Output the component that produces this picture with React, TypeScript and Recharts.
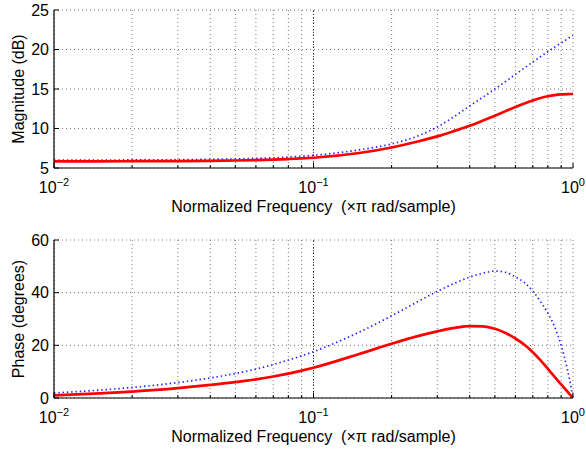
import React from 'react';
import { LineChart, Line, XAxis, YAxis, CartesianGrid, ReferenceLine, Label } from 'recharts';

// Normalized frequency samples (×π rad/sample)
const freq = [0.01, 0.015, 0.02, 0.03, 0.04, 0.05, 0.06, 0.07, 0.08, 0.09, 0.1, 0.15, 0.2, 0.25, 0.3, 0.35, 0.4, 0.45, 0.5, 0.55, 0.6, 0.65, 0.7, 0.75, 0.8, 0.85, 0.9, 0.95, 0.98, 1];

// Magnitude responses (dB)
const magA = [5.85, 5.85, 5.86, 5.88, 5.91, 5.95, 6.0, 6.06, 6.13, 6.21, 6.3, 6.9, 7.6, 8.32, 9.0, 9.7, 10.34, 11.0, 11.62, 12.2, 12.72, 13.17, 13.55, 13.86, 14.08, 14.23, 14.32, 14.36, 14.37, 14.37];
const magB = [6.0, 6.01, 6.02, 6.05, 6.1, 6.15, 6.22, 6.3, 6.39, 6.49, 6.6, 7.3, 8.05, 9.0, 10.2, 11.55, 12.85, 13.97, 15.0, 15.95, 16.85, 17.67, 18.42, 19.1, 19.73, 20.3, 20.83, 21.33, 21.62, 21.8];

// Phase responses (degrees)
const phaseA = [1.0, 1.75, 2.45, 3.75, 4.95, 6.0, 7.05, 8.15, 9.25, 10.4, 11.5, 16.7, 20.6, 23.4, 25.3, 26.6, 27.3, 27.2, 26.3, 24.7, 22.6, 20.2, 17.4, 14.3, 11.1, 8.0, 5.2, 2.5, 1.0, 0];
const phaseB = [1.9, 3.0, 4.0, 5.85, 7.6, 9.3, 11.0, 12.7, 14.4, 16.0, 17.6, 25.0, 31.2, 36.4, 40.5, 43.6, 45.9, 47.4, 48.2, 47.7, 46.0, 43.8, 40.6, 36.6, 32.2, 27.0, 20.0, 11.1, 4.8, 0];

// Log-axis tick positions: decades plus minor ticks
const xTicks = [0.01, 0.02, 0.03, 0.04, 0.05, 0.06, 0.07, 0.08, 0.09, 0.1, 0.2, 0.3, 0.4, 0.5, 0.6, 0.7, 0.8, 0.9, 1];
const decadeTicks = [0.01, 0.1, 1];
const decadeExp = ['\u22122', '\u22121', '0'];
const magTicks = [5, 10, 15, 20, 25];
const phaseTicks = [0, 20, 40, 60];

const xLabel = 'Normalized Frequency  (\u00d7\u03c0 rad/sample)';
const magLabel = 'Magnitude (dB)';
const phaseLabel = 'Phase (degrees)';

const magData = freq.map((f, i) => ({ f, a: magA[i], b: magB[i] }));
const phaseData = freq.map((f, i) => ({ f, a: phaseA[i], b: phaseB[i] }));

const FONT = '"Liberation Sans", Arial, Helvetica, sans-serif';
const FS = 16;

const decadeIndex = (v: number) => decadeTicks.findIndex((d) => Math.abs(d - v) < 1e-9);

function BottomTick(props: any) {
  const { x, y, payload } = props;
  const idx = decadeIndex(payload.value);
  const len = idx >= 0 ? 5 : 3;
  return (
    <g>
      <line x1={x} x2={x} y1={y} y2={y - len} stroke="#000" strokeWidth={1} />
      {idx >= 0 && (
        <text x={x} y={y + 25} textAnchor="middle" fontSize={FS} fontFamily={FONT} fill="#000">
          10<tspan dy={-7} fontSize={11}>{decadeExp[idx]}</tspan>
        </text>
      )}
    </g>
  );
}

function TopTick(props: any) {
  const { x, y, payload } = props;
  const len = decadeIndex(payload.value) >= 0 ? 5 : 3;
  return <line x1={x} x2={x} y1={y} y2={y + len} stroke="#000" strokeWidth={1} />;
}

function LeftTick(props: any) {
  const { x, y, payload } = props;
  return (
    <g>
      <line x1={x} x2={x + 5} y1={y} y2={y} stroke="#000" strokeWidth={1} />
      <text x={x - 5} y={y} dy={5.5} textAnchor="end" fontSize={FS} fontFamily={FONT} fill="#000">
        {payload.value}
      </text>
    </g>
  );
}

function RightTick(props: any) {
  const { x, y } = props;
  return <line x1={x} x2={x - 5} y1={y} y2={y} stroke="#000" strokeWidth={1} />;
}

function XTitle(props: any) {
  const { viewBox } = props;
  return (
    <text
      x={viewBox.x + viewBox.width / 2}
      y={viewBox.y + 44}
      textAnchor="middle"
      fontSize={FS}
      fontFamily={FONT}
      fill="#000"
      style={{ whiteSpace: 'pre' }}
    >
      {xLabel}
    </text>
  );
}

function makeYTitle(text: string) {
  return function YTitle(props: any) {
    const { viewBox } = props;
    const cx = viewBox.x + 24;
    const cy = viewBox.y + viewBox.height / 2;
    return (
      <text x={cx} y={cy} transform={`rotate(-90, ${cx}, ${cy})`} textAnchor="middle" fontSize={FS} fontFamily={FONT} fill="#000">
        {text}
      </text>
    );
  };
}

const axisLine = { stroke: '#000', strokeWidth: 1.2 };

function Panel(props: { data: any[]; yTicks: number[]; yDomain: [number, number]; yTitle: string; height: number; top: number }) {
  const { data, yTicks, yDomain, yTitle, height, top } = props;
  return (
    <LineChart width={586} height={height} data={data} margin={{ top, right: 13, bottom: 0, left: 0 }}>
      <CartesianGrid stroke="#777" strokeDasharray="1 3" strokeWidth={1} />
      <ReferenceLine x={0.1} stroke="#333" strokeDasharray="1 2" strokeWidth={1} />
      <XAxis
        dataKey="f"
        type="number"
        scale="log"
        domain={[0.01, 1]}
        ticks={xTicks}
        interval={0}
        allowDataOverflow
        height={height - top - 158}
        tickSize={0}
        tickMargin={0}
        tickLine={false}
        axisLine={axisLine}
        tick={<BottomTick />}
      >
        <Label content={<XTitle />} />
      </XAxis>
      <XAxis
        xAxisId="top"
        orientation="top"
        dataKey="f"
        type="number"
        scale="log"
        domain={[0.01, 1]}
        ticks={xTicks}
        interval={0}
        allowDataOverflow
        height={0}
        tickSize={0}
        tickMargin={0}
        tickLine={false}
        axisLine={axisLine}
        tick={<TopTick />}
      />
      <YAxis
        type="number"
        domain={yDomain}
        ticks={yTicks}
        interval={0}
        allowDataOverflow
        width={54}
        tickSize={0}
        tickMargin={0}
        tickLine={false}
        axisLine={axisLine}
        tick={<LeftTick />}
      >
        <Label content={makeYTitle(yTitle)} />
      </YAxis>
      <YAxis
        yAxisId="right"
        orientation="right"
        type="number"
        domain={yDomain}
        ticks={yTicks}
        interval={0}
        allowDataOverflow
        width={0}
        tickSize={0}
        tickMargin={0}
        tickLine={false}
        axisLine={axisLine}
        tick={<RightTick />}
      />
      <Line
        dataKey="b"
        type="monotone"
        stroke="#1f1fff"
        strokeWidth={1.7}
        strokeDasharray="1.4 2.9"
        dot={false}
        activeDot={false}
        isAnimationActive={false}
      />
      <Line
        dataKey="a"
        type="monotone"
        stroke="#ff0000"
        strokeWidth={2.7}
        dot={false}
        activeDot={false}
        isAnimationActive={false}
      />
    </LineChart>
  );
}

export default function App() {
  return (
    <div style={{ position: 'absolute', left: 0, top: 0, width: 586, height: 452, background: '#fff' }}>
      <div style={{ position: 'absolute', left: 0, top: 0 }}>
        <Panel data={magData} yTicks={magTicks} yDomain={[5, 25]} yTitle={magLabel} height={225} top={10} />
      </div>
      <div style={{ position: 'absolute', left: 0, top: 225 }}>
        <Panel data={phaseData} yTicks={phaseTicks} yDomain={[0, 60]} yTitle={phaseLabel} height={227} top={15} />
      </div>
    </div>
  );
}
